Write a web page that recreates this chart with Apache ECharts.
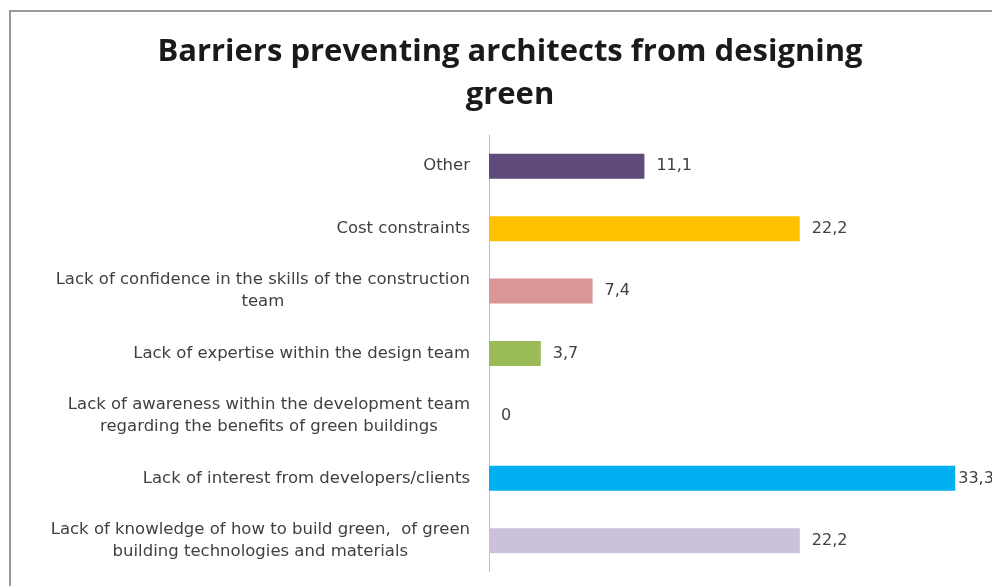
<!DOCTYPE html>
<html>
<head>
<meta charset="utf-8">
<style>
  html, body { margin: 0; padding: 0; background: #fff; }
  #chart { width: 992px; height: 586px; }
</style>
<script src="https://cdn.jsdelivr.net/npm/echarts@6/dist/echarts.min.js"></script>
</head>
<body>
<div id="chart"></div>
<script>
// Categories listed top to bottom
const categories = [
  'Other',
  'Cost constraints',
  'Lack of confidence in the skills of the construction\nteam',
  'Lack of expertise within the design team',
  'Lack of awareness within the development team\nregarding the benefits of green buildings',
  'Lack of interest from developers/clients',
  'Lack of knowledge of how to build green,  of green\nbuilding technologies and materials'
];
const values = [11.1, 22.2, 7.4, 3.7, 0, 33.3, 22.2];
const barColors = ['#604A7B', '#FFC000', '#D99694', '#9BBB59', '#4F81BD', '#00B0F0', '#CCC1DA'];

const chart = echarts.init(document.getElementById('chart'), null, { renderer: 'canvas' });

const titleFont = '"Open Sans", Lato, sans-serif';
const labelFont = '"DejaVu Sans", "Open Sans", sans-serif';
const maxValue = Math.max.apply(null, values);

chart.setOption({
  animation: false,
  backgroundColor: '#ffffff',
  title: {
    text: 'Barriers preventing architects from designing\ngreen',
    left: 505,
    top: 26,
    textAlign: 'center',
    textStyle: {
      fontFamily: titleFont,
      fontWeight: 'bold',
      fontSize: 31,
      lineHeight: 43,
      color: '#1a1a1a'
    }
  },
  graphic: [{
    type: 'rect',
    shape: { x: 10, y: 11, width: 1000, height: 600 },
    style: { fill: 'none', stroke: '#9a9a9a', lineWidth: 2 },
    silent: true
  }],
  grid: { left: 489, top: 135, width: 490, height: 437, containLabel: false },
  xAxis: {
    type: 'value',
    min: 0,
    max: 35,
    show: false
  },
  yAxis: {
    type: 'category',
    data: categories,
    inverse: true,
    axisLine: { show: true, lineStyle: { color: '#BFBFBF', width: 1 } },
    axisTick: { show: false },
    axisLabel: {
      margin: 19,
      color: '#404040',
      fontFamily: labelFont,
      fontSize: 16.5,
      lineHeight: 22,
      formatter: function (label) {
        return label.split('\n').map(function (l) { return '{c|' + l + '}'; }).join('\n');
      },
      rich: {
        c: { align: 'center', color: '#404040', fontFamily: labelFont, fontSize: 16.5, lineHeight: 22 }
      }
    }
  },
  series: [{
    type: 'bar',
    data: values.map(function (v, i) {
      const item = { value: v, itemStyle: { color: barColors[i] } };
      // the longest bar's label sits tight against its end
      if (v === maxValue) item.label = { distance: 3 };
      return item;
    }),
    barWidth: 25,
    label: {
      show: true,
      position: 'right',
      distance: 12,
      color: '#404040',
      fontFamily: labelFont,
      fontSize: 16,
      formatter: function (p) { return String(p.value).replace('.', ','); }
    }
  }]
});
</script>
</body>
</html>
